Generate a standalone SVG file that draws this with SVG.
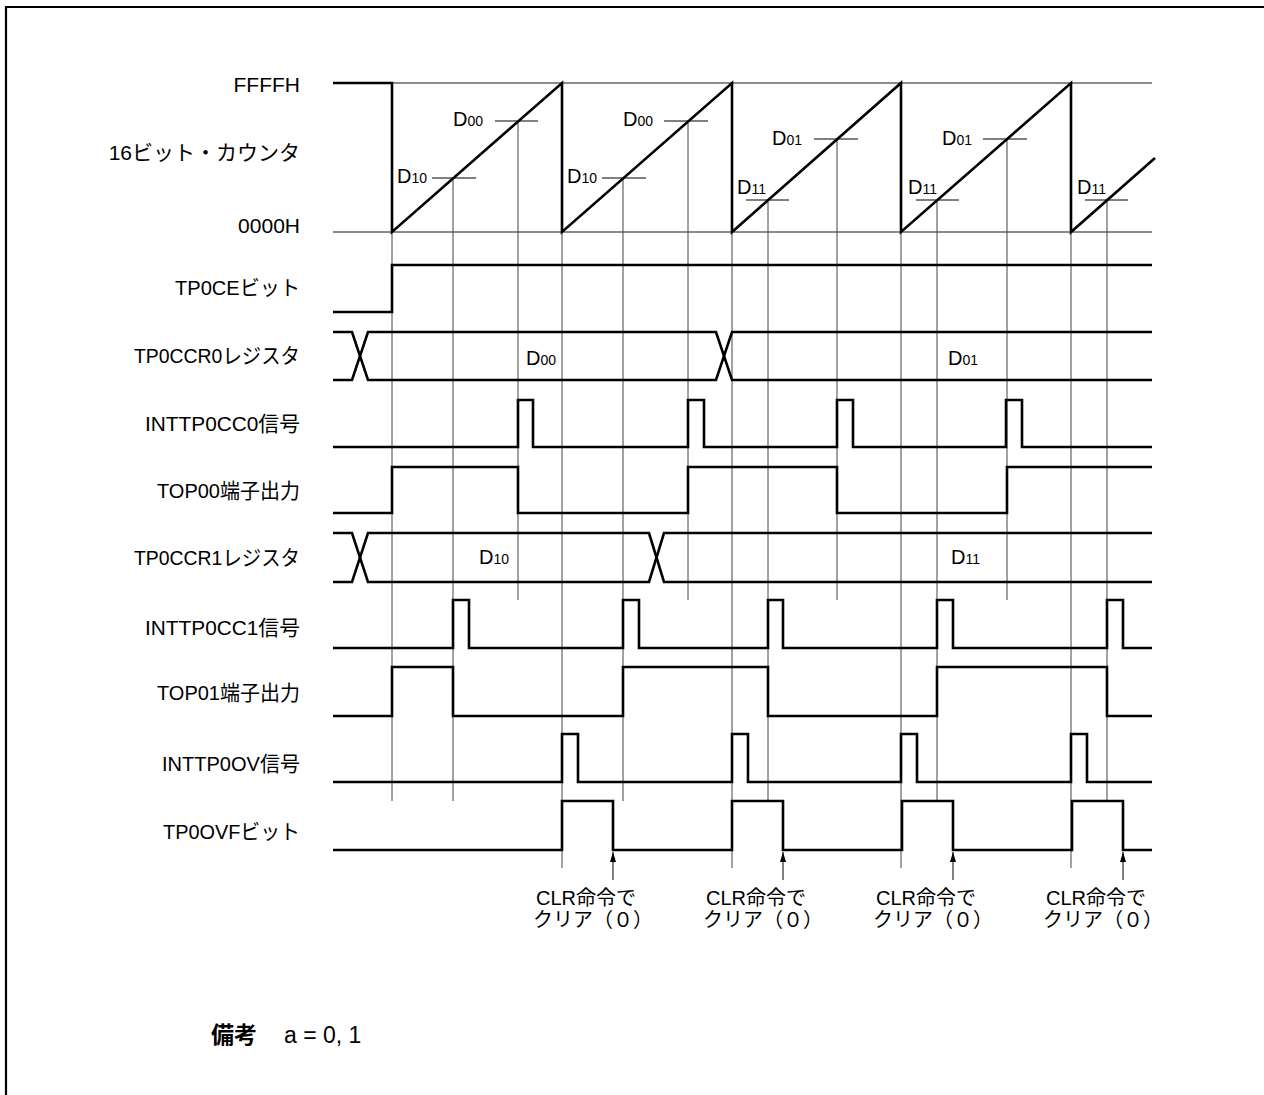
<svg xmlns="http://www.w3.org/2000/svg" width="1264" height="1095" viewBox="0 0 1264 1095">
<style>
.sig{fill:none;stroke:#000;stroke-width:2.6;stroke-linejoin:miter}
.grid{fill:none;stroke:#444;stroke-width:1}
.hgrid{fill:none;stroke:#666;stroke-width:1.4}
.tick{fill:none;stroke:#000;stroke-width:1}
.arrow{fill:none;stroke:#000;stroke-width:1}
text{font-family:"Liberation Sans","Noto Sans CJK JP",sans-serif;fill:#000}
.lbl{font-size:21px;text-anchor:end}
.d{font-size:20px}
.sub{font-size:14px}
.clr{font-size:20px}
</style>
<defs>
<marker id="arr" viewBox="0 0 10 6" refX="10" refY="3" markerWidth="10" markerHeight="6" markerUnits="userSpaceOnUse" orient="auto-start-reverse">
<path d="M0,0 L10,3 L0,6 Z" fill="#000"/>
</marker>
</defs>
<rect width="1264" height="1095" fill="#fff"/>
<path d="M6,1100 V7 H1270" fill="none" stroke="#000" stroke-width="2.2"/>

<g id="labels">
<text class="lbl" x="300" y="92">FFFFH</text>
<text class="lbl" x="300" y="160">16ビット・カウンタ</text>
<text class="lbl" x="300" y="233">0000H</text>
<text class="lbl" x="300" y="295" textLength="125" lengthAdjust="spacingAndGlyphs">TP0CEビット</text>
<text class="lbl" x="300" y="363" textLength="166" lengthAdjust="spacingAndGlyphs">TP0CCR0レジスタ</text>
<text class="lbl" x="300" y="431" textLength="155" lengthAdjust="spacingAndGlyphs">INTTP0CC0信号</text>
<text class="lbl" x="300" y="498" textLength="143" lengthAdjust="spacingAndGlyphs">TOP00端子出力</text>
<text class="lbl" x="300" y="565" textLength="166" lengthAdjust="spacingAndGlyphs">TP0CCR1レジスタ</text>
<text class="lbl" x="300" y="635" textLength="155" lengthAdjust="spacingAndGlyphs">INTTP0CC1信号</text>
<text class="lbl" x="300" y="700" textLength="143" lengthAdjust="spacingAndGlyphs">TOP01端子出力</text>
<text class="lbl" x="300" y="771" textLength="138" lengthAdjust="spacingAndGlyphs">INTTP0OV信号</text>
<text class="lbl" x="300" y="839" textLength="137" lengthAdjust="spacingAndGlyphs">TP0OVFビット</text>
</g>

<g id="grid">
<path class="hgrid" d="M392,83 H1152 M333,232 H1152"/>
<path class="grid" d="M392,232 V801 M453,178 V801 M518,121 V600 M562,232 V868 M623,178 V801 M688,121 V600 M732,232 V868 M768,200 V801 M837,139 V600 M901,232 V868 M937,200 V801 M1007,139 V600 M1071,232 V868 M1107,200 V801"/>
<path class="tick" d="M432,178 H476 M495,121 H538 M602,178 H646 M664,121 H708 M746,200 H789 M814,139 H858 M916,200 H959 M983,139 H1027 M1085,200 H1128"/>
</g>

<g id="counter">
<path class="sig" d="M333,83 H392 V232 L562,83 V232 L732,83 V232 L901,83 V232 L1071,83 V232 L1155,158"/>
<text class="d" x="397" y="183">D<tspan class="sub">10</tspan></text>
<text class="d" x="453" y="126">D<tspan class="sub">00</tspan></text>
<text class="d" x="567" y="183">D<tspan class="sub">10</tspan></text>
<text class="d" x="623" y="126">D<tspan class="sub">00</tspan></text>
<text class="d" x="737" y="194">D<tspan class="sub">11</tspan></text>
<text class="d" x="772" y="145">D<tspan class="sub">01</tspan></text>
<text class="d" x="908" y="194">D<tspan class="sub">11</tspan></text>
<text class="d" x="942" y="145">D<tspan class="sub">01</tspan></text>
<text class="d" x="1077" y="194">D<tspan class="sub">11</tspan></text>
</g>

<g id="tp0ce">
<path class="sig" d="M333,312 H392 V265 H1152"/>
</g>

<g id="tp0ccr0">
<path class="sig" d="M333,332 H352 L368,380 H716 L732,332 H1152"/>
<path class="sig" d="M333,380 H352 L368,332 H716 L732,380 H1152"/>
<text class="d" x="526" y="365">D<tspan class="sub">00</tspan></text>
<text class="d" x="948" y="365">D<tspan class="sub">01</tspan></text>
</g>

<g id="inttp0cc0">
<path class="sig" d="M333,447 H518 V400 H533 V447 H688 V400 H704 V447 H837 V400 H853 V447 H1006 V400 H1022 V447 H1152"/>
</g>

<g id="top00">
<path class="sig" d="M333,513 H392 V467 H518 V513 H688 V467 H837 V513 H1007 V467 H1152"/>
</g>

<g id="tp0ccr1">
<path class="sig" d="M333,533 H352 L368,582 H649 L664,533 H1152"/>
<path class="sig" d="M333,582 H352 L368,533 H649 L664,582 H1152"/>
<text class="d" x="479" y="564">D<tspan class="sub">10</tspan></text>
<text class="d" x="951" y="564">D<tspan class="sub">11</tspan></text>
</g>

<g id="inttp0cc1">
<path class="sig" d="M333,648 H453 V600 H469 V648 H623 V600 H639 V648 H768 V600 H783 V648 H937 V600 H953 V648 H1107 V600 H1123 V648 H1152"/>
</g>

<g id="top01">
<path class="sig" d="M333,716 H392 V667 H453 V716 H623 V667 H768 V716 H937 V667 H1107 V716 H1152"/>
</g>

<g id="inttp0ov">
<path class="sig" d="M333,782 H562 V734 H578 V782 H732 V734 H748 V782 H901 V734 H917 V782 H1071 V734 H1087 V782 H1152"/>
</g>

<g id="tp0ovf">
<path class="sig" d="M333,850 H562 V801 H613 V850 H732 V801 H783 V850 H902 V801 H953 V850 H1072 V801 H1123 V850 H1152"/>
</g>

<g id="connectors">
<path class="arrow" marker-start="url(#arr)" d="M613,852 V880"/>
<path class="arrow" marker-start="url(#arr)" d="M783,852 V880"/>
<path class="arrow" marker-start="url(#arr)" d="M953,852 V880"/>
<path class="arrow" marker-start="url(#arr)" d="M1123,852 V880"/>
</g>

<g id="clr-notes">
<text class="clr" x="536" y="905">CLR命令で</text>
<text class="clr" x="533" y="927">クリア（０）</text>
<text class="clr" x="706" y="905">CLR命令で</text>
<text class="clr" x="703" y="927">クリア（０）</text>
<text class="clr" x="876" y="905">CLR命令で</text>
<text class="clr" x="873" y="927">クリア（０）</text>
<text class="clr" x="1046" y="905">CLR命令で</text>
<text class="clr" x="1043" y="927">クリア（０）</text>
</g>

<g id="note">
<text x="211" y="1043" style="font-size:23px;font-weight:bold">備考</text>
<text x="284" y="1043" style="font-size:23px">a = 0, 1</text>
</g>
</svg>
